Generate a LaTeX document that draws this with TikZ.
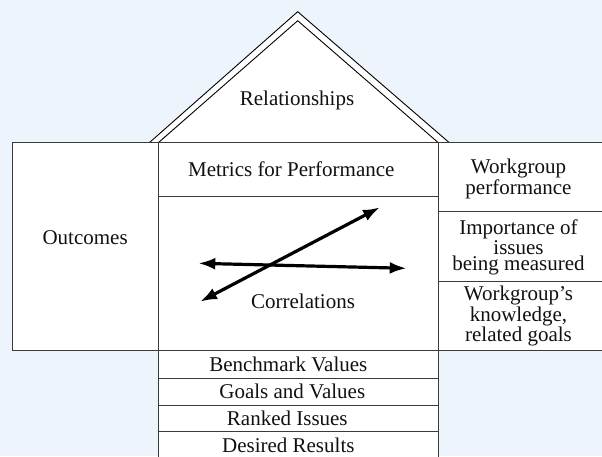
\documentclass[tikz,border=0pt]{standalone}
\usepackage{fontspec}
\setmainfont{Liberation Serif}
\usepackage{xcolor}
\usetikzlibrary{arrows.meta}
\definecolor{hqBack}{HTML}{EEF4FB}
\definecolor{hqLine}{HTML}{3A3A3A}
\definecolor{hqInk}{HTML}{111111}
\tikzset{
  hq diagram/.style={x=1pt, y=-1pt, font=\rmfamily\fontsize{21}{18}\selectfont,
    text=hqInk, line join=miter},
  hq cell/.style={draw=hqLine, fill=white, line width=1pt,
    inner sep=0pt, align=center},
  hq side/.style={align=center, inner sep=0pt,
    font=\rmfamily\fontsize{21}{16.5}\selectfont},
  hq roof/.style={draw=black, fill=white, line width=0.9pt},
  hq arrow/.style={{Latex[length=17pt,width=12pt]}-{Latex[length=17pt,width=12pt]},
    draw=black, line width=3.2pt}
}
\begin{document}
\begin{tikzpicture}[hq diagram]
\clip (0,0) rectangle (602,456);
\fill[hqBack] (0,0) rectangle (602,456);
% roof
\draw[hq roof] (149.3,142.7) -- (297.7,11.7) -- (449.3,142.7);
\draw[hq roof] (158.3,142.7) -- (297.7,20.7) -- (438.3,142.7);
\node (relationships) at (297,100) {Relationships};
% left wall
\node[hq cell, minimum width=146.3pt, minimum height=207.3pt] (outcomes) at (85.15,246.35) {};
\node (outcomes text) at ([yshift=9pt]outcomes.center) {Outcomes};
% middle column
\node[hq cell, minimum width=280pt, minimum height=53.3pt] (metrics) at (298.3,169.35) {};
\node (metrics text) at ([xshift=-7pt]metrics.center) {Metrics for Performance};
\node[hq cell, minimum width=280pt, minimum height=154pt] (correlations) at (298.3,273) {};
\node (correlations text) at (303,301) {Correlations};
% right wall
\node[hq cell, minimum width=167pt, minimum height=68.3pt] (workgroup) at (521.8,176.85) {};
\node[hq cell, minimum width=167pt, minimum height=70pt] (importance) at (521.8,246) {};
\node[hq cell, minimum width=167pt, minimum height=69pt] (knowledge) at (521.8,315.5) {};
\node[hq side] (workgroup text) at (518.5,179) {Workgroup\\performance};
\node[hq side] (importance text) at (518.5,247.5) {Importance of\\issues\\being measured};
\node[hq side] (knowledge text) at (518.5,316) {Workgroup's\\knowledge,\\related goals};
% basement
\node[hq cell, minimum width=280pt, minimum height=28.3pt] (benchmark) at (298.3,364.15) {};
\node[hq cell, minimum width=280pt, minimum height=26.7pt] (goals) at (298.3,391.65) {};
\node[hq cell, minimum width=280pt, minimum height=26.7pt] (ranked) at (298.3,418.35) {};
\node[hq cell, minimum width=280pt, minimum height=26.7pt] (desired) at (298.3,445.05) {};
\node (benchmark text) at ([xshift=-10pt]benchmark.center) {Benchmark Values};
\node (goals text) at ([xshift=-6pt]goals.center) {Goals and Values};
\node (ranked text) at ([xshift=-11pt]ranked.center) {Ranked Issues};
\node (desired text) at ([xshift=-10pt]desired.center) {Desired Results};
% correlation arrows
\coordinate (rise start) at (200,301.7);
\coordinate (rise end) at (380,207.3);
\coordinate (flat start) at (198.3,263.3);
\coordinate (flat end) at (406.7,268.3);
\draw[hq arrow] (rise start) -- (rise end);
\draw[hq arrow] (flat start) -- (flat end);
\end{tikzpicture}
\end{document}
